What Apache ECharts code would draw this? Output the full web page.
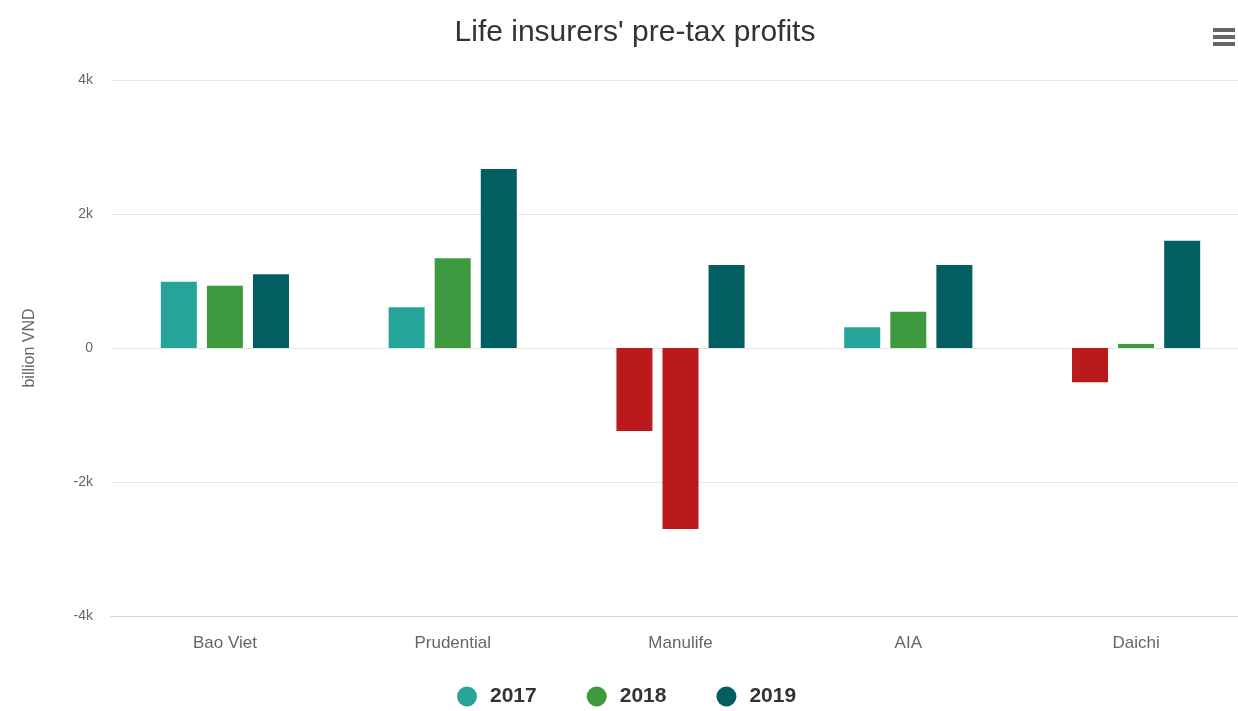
<!DOCTYPE html>
<html>
<head>
<meta charset="utf-8">
<script src="https://cdn.jsdelivr.net/npm/echarts@6/dist/echarts.min.js"></script>
<style>
html,body{margin:0;padding:0;background:#fff;overflow:hidden;width:1238px;height:711px;}
#chart{width:1250px;height:711px;}
</style>
</head>
<body>
<div id="chart"></div>
<script>
const categories = ['Bao Viet', 'Prudential', 'Manulife', 'AIA', 'Daichi'];
const years = ['2017', '2018', '2019'];
const values2017 = [990, 610, -1240, 310, -510];
const values2018 = [930, 1340, -2700, 540, 60];
const values2019 = [1100, 2670, 1240, 1240, 1600];
const yTickLabels = {'4000': '4k', '2000': '2k', '0': '0', '-2000': '-2k', '-4000': '-4k'};

const colors = ['#26a49a', '#3d9a3f', '#035e62'];
const negColor = '#bb1a1c';
const FONT = 'Liberation Sans, Arial, sans-serif';

function mk(name, vals, color) {
  return {
    name: name,
    type: 'bar',
    barWidth: 36,
    barGap: '28%',
    itemStyle: {color: color},
    data: vals.map(v => v < 0 ? {value: v, itemStyle: {color: negColor}} : v)
  };
}

const chart = echarts.init(document.getElementById('chart'), null, {renderer: 'canvas'});
chart.setOption({
  animation: false,
  backgroundColor: '#fff',
  title: {
    text: "Life insurers' pre-tax profits",
    left: 630,
    textAlign: 'center',
    top: 13,
    textStyle: {fontFamily: FONT, fontSize: 30, fontWeight: 'normal', color: '#333'}
  },
  legend: {
    top: 681,
    left: 452,
    icon: 'circle',
    itemWidth: 20,
    itemHeight: 20,
    itemGap: 50,
    textStyle: {fontFamily: FONT, fontSize: 21, fontWeight: 'bold', color: '#333', padding: [0, 0, 0, 8]},
    data: years
  },
  grid: {left: 111, top: 80, right: 0, bottom: 95, containLabel: false},
  xAxis: {
    type: 'category',
    data: categories,
    axisLine: {onZero: false, lineStyle: {color: '#ccd6eb', width: 1}},
    axisTick: {show: false},
    axisLabel: {fontFamily: FONT, fontSize: 17, color: '#666', margin: 19}
  },
  yAxis: {
    type: 'value',
    min: -4000,
    max: 4000,
    interval: 2000,
    name: 'billion VND',
    nameLocation: 'middle',
    nameGap: 73,
    nameTextStyle: {fontFamily: FONT, fontSize: 16, color: '#666'},
    axisLine: {show: false},
    axisTick: {show: false},
    splitLine: {lineStyle: {color: '#e6e6e6'}},
    axisLabel: {
      fontFamily: FONT, fontSize: 14, color: '#666', margin: 18,
      formatter: v => yTickLabels[String(v)]
    }
  },
  series: [
    mk(years[0], values2017, colors[0]),
    mk(years[1], values2018, colors[1]),
    mk(years[2], values2019, colors[2])
  ],
  graphic: [
    {type: 'rect', left: 1213, top: 28, shape: {width: 22, height: 4}, style: {fill: '#666'}},
    {type: 'rect', left: 1213, top: 35, shape: {width: 22, height: 4}, style: {fill: '#666'}},
    {type: 'rect', left: 1213, top: 42, shape: {width: 22, height: 4}, style: {fill: '#666'}}
  ]
});
</script>
</body>
</html>
